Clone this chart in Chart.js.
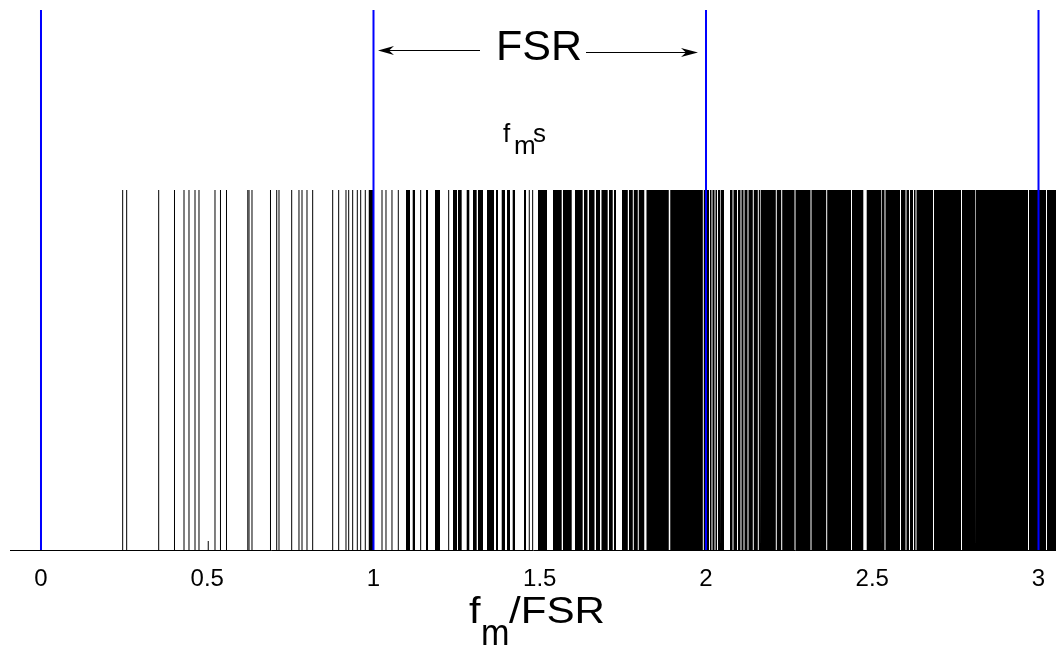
<!DOCTYPE html>
<html>
<head>
<meta charset="utf-8">
<title>f_m / FSR</title>
<script src="https://cdn.jsdelivr.net/npm/chart.js@4.4.1/dist/chart.umd.min.js"></script>
<style>
  html, body { margin: 0; padding: 0; background: #fff; }
  #wrap { width: 1056px; height: 645px; position: relative; }
</style>
</head>
<body>
<div id="wrap"><canvas id="modeChart"></canvas></div>
<script>
// x axis ticks
const tickValues = [0, 0.5, 1, 1.5, 2, 2.5, 3];
const tickLabels = ["0", "0.5", "1", "1.5", "2", "2.5", "3"];

// FSR markers (blue)
const fsrLines = [0, 1, 2, 3];

// single thin mode lines, in f_m/FSR
const lineAt = [0.2457, 0.2577, 0.3540, 0.4015, 0.4301, 0.4451, 0.4632, 0.4752,
  0.5233, 0.5398, 0.5579, 0.6220, 0.6256, 0.6346, 0.6902, 0.7089, 0.7158, 0.7540,
  0.7759, 0.7850, 0.8000, 0.8171, 0.8773, 0.8953, 0.9173, 0.9254, 0.9374, 0.9513,
  0.9615, 0.9753, 1.0256, 1.0376, 1.0556, 1.0746, 1.1419, 1.2261, 1.4685, 1.4787];

// short marks near the axis
const shortAt = [0.503, 1.506];
const shortHeight = 0.025;

// runs where modes are packed so close they merge into black
const bands = [
  [0.9850, 1.0015], [1.0977, 1.1098], [1.1179, 1.1248], [1.1579, 1.1639], [1.1850, 1.2000],
  [1.2391, 1.2511], [1.2541, 1.2652], [1.2803, 1.2881], [1.2992, 1.3103], [1.3143, 1.3293],
  [1.3414, 1.3624], [1.3684, 1.3744], [1.3856, 1.3955], [1.4015, 1.4105], [1.4186, 1.4256],
  [1.4526, 1.4586], [1.4947, 1.5218], [1.5398, 1.5660], [1.5700, 1.5961], [1.6060, 1.6291],
  [1.6331, 1.6436], [1.6481, 1.6647], [1.6692, 1.6812], [1.6857, 1.7043], [1.7083, 1.7195],
  [1.7233, 1.7293], [1.7474, 1.7648], [1.7684, 1.7798], [1.7829, 1.7948], [1.7978, 1.8143],
  [1.8210, 1.8880], [1.8925, 1.9904], [1.9934, 2.0090], [2.0120, 2.0165], [2.0195, 2.0256],
  [2.0286, 2.0331], [2.0361, 2.0421], [2.0451, 2.0541], [2.0722, 2.0797], [2.0827, 2.0932],
  [2.0962, 2.1037], [2.1067, 2.1128], [2.1158, 2.1248], [2.1278, 2.1407], [2.1437, 2.1558],
  [2.1588, 2.1624], [2.1654, 2.2099], [2.2129, 2.2261], [2.2292, 2.2662], [2.2692, 2.3143],
  [2.3173, 2.3615], [2.3645, 2.4361], [2.4391, 2.4731], [2.4833, 2.5263], [2.5293, 2.5368],
  [2.5398, 2.5834], [2.5865, 2.6000], [2.6030, 2.6105], [2.6135, 2.6225], [2.6255, 2.6301],
  [2.6331, 2.6827], [2.6857, 2.7669], [2.7699, 2.8090], [2.8120, 2.9684], [2.9714, 3.0225],
  [3.0255, 3.0526]
];

// heights of the marks
const modeHeight = 1;
const fsrHeight = 1.5;

// x range shown
const xMin = -0.0932;
const xMax = 3.0526;

// vertical segments with gaps between them
function segments(xs, h) {
  const pts = [];
  xs.forEach(x => {
    pts.push({ x: x, y: 0 }, { x: x, y: h }, { x: x, y: null });
  });
  return pts;
}

// outline of the black bands, filled down to zero
function bandOutline(list) {
  const pts = [];
  list.forEach(b => {
    pts.push({ x: b[0], y: 0 }, { x: b[0], y: modeHeight }, { x: b[1], y: modeHeight }, { x: b[1], y: 0 });
  });
  return pts;
}

// text drawn a bit wider than the font, like the original
function wideText(ctx, text, x, y, sx) {
  ctx.save();
  ctx.translate(x, y);
  ctx.scale(sx, 1);
  ctx.fillText(text, 0, 0);
  ctx.restore();
}

// text and arrows that sit on the chart
const notes = {
  id: "notes",
  afterDraw(chart) {
    const ctx = chart.ctx;
    ctx.save();
    ctx.fillStyle = "#000";
    ctx.strokeStyle = "#000";
    ctx.textBaseline = "alphabetic";
    ctx.textAlign = "left";

    // FSR with arrows
    ctx.font = "43px 'Liberation Sans', Arial, sans-serif";
    ctx.fillText("FSR", 496, 60);
    ctx.lineWidth = 1;
    ctx.beginPath();
    ctx.moveTo(380, 50.5); ctx.lineTo(480, 50.5);
    ctx.moveTo(586, 52.5); ctx.lineTo(694, 52.5);
    ctx.stroke();
    ctx.beginPath();
    ctx.moveTo(378, 50.5); ctx.lineTo(394, 46); ctx.lineTo(389, 50.5); ctx.lineTo(394, 55); ctx.closePath();
    ctx.fill();
    ctx.beginPath();
    ctx.moveTo(698, 52.5); ctx.lineTo(681, 48); ctx.lineTo(686, 52.5); ctx.lineTo(681, 57); ctx.closePath();
    ctx.fill();

    // f_m s
    ctx.font = "26px 'Liberation Sans', Arial, sans-serif";
    ctx.fillText("f", 503, 142);
    ctx.fillText("m", 514, 154);
    ctx.fillText("s", 533, 142);

    // axis label f_m/FSR
    ctx.font = "36px 'Liberation Sans', Arial, sans-serif";
    wideText(ctx, "f", 469, 623, 1.15);
    wideText(ctx, "m", 481, 645, 0.95);
    wideText(ctx, "/FSR", 509, 623, 1.17);
    ctx.restore();
  }
};

function renderChart() {
  const canvas = document.getElementById("modeChart");

  new Chart(canvas, {
    type: "line",
    data: {
      datasets: [
        { label: "FSR", data: segments(fsrLines, fsrHeight), borderColor: "#0000ff", borderWidth: 2, order: 0 },
        { label: "modes", data: segments(lineAt, modeHeight), borderColor: "#000", borderWidth: 1, order: 1 },
        { label: "short", data: segments(shortAt, shortHeight), borderColor: "#000", borderWidth: 1, order: 1 },
        { label: "dense", data: bandOutline(bands), borderWidth: 0, borderColor: "rgba(0,0,0,0)",
          backgroundColor: "#000", fill: "origin", order: 2 }
      ]
    },
    options: {
      responsive: true,
      maintainAspectRatio: false,
      animation: false,
      spanGaps: false,
      layout: { padding: { top: 10, left: 10, right: 0, bottom: 0 } },
      elements: { point: { radius: 0 }, line: { tension: 0 } },
      plugins: { legend: { display: false }, tooltip: { enabled: false } },
      scales: {
        x: {
          type: "linear",
          min: xMin,
          max: xMax,
          grid: { display: false },
          border: { display: true, color: "#000", width: 1 },
          afterBuildTicks: scale => { scale.ticks = tickValues.map(v => ({ value: v })); },
          afterFit: scale => { scale.height = 95; },
          ticks: {
            color: "#000",
            padding: 7,
            maxRotation: 0,
            autoSkip: false,
            font: { family: "'Liberation Sans', Arial, sans-serif", size: 24 },
            callback: v => {
              const i = tickValues.indexOf(v);
              return i >= 0 ? tickLabels[i] : "";
            }
          }
        },
        y: { display: false, min: 0, max: fsrHeight }
      }
    },
    plugins: [notes]
  });
}

window.addEventListener("DOMContentLoaded", renderChart);
</script>
</body>
</html>
